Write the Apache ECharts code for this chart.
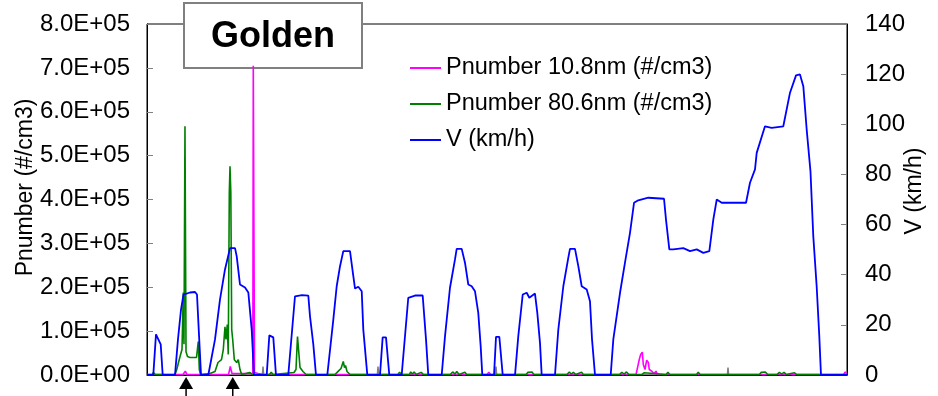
<!DOCTYPE html>
<html>
<head>
<meta charset="utf-8">
<script src="https://cdn.jsdelivr.net/npm/echarts@6/dist/echarts.min.js"></script>
<style>
html,body{margin:0;padding:0;background:#fff;}
#chart{width:938px;height:396px;}
</style>
</head>
<body>
<div id="chart"></div>
<script>
// ---------- DATA (time in s) ----------
var seriesNames = ['Pnumber 10.8nm (#/cm3)', 'Pnumber 80.6nm (#/cm3)', 'V (km/h)'];

var leftTickLabels = ['0.0E+00','1.0E+05','2.0E+05','3.0E+05','4.0E+05','5.0E+05','6.0E+05','7.0E+05','8.0E+05'];
var rightTickLabels = ['0','20','40','60','80','100','120','140'];

// Vehicle speed V (km/h)
var vTime = [0,10.8,15.4,19.4,23.5,26.9,
  48,53.1,58.3,62.6,73.7,82.3,85.7,89.1,92.6,
  105.1,116.6,125.1,133.7,142.3,150.9,153.8,159.4,168,173.7,179.5,183.4,
  205.2,209.7,216.5,221.1,
  242.2,253.7,265.7,276.5,279.4,285.1,289.7,
  309.1,319.4,325.2,330.9,336.5,348,353.7,356.6,362.2,368.1,370.8,377.7,
  399.4,404,409.7,415.4,
  436.6,447.9,459.4,472.6,478.3,482.2,
  505.2,510.9,519.4,528,530.9,539.5,545.1,550.8,556.6,562.3,567.9,572,574.8,
  594.9,598.3,604,609.8,
  630.9,636.5,644.1,650.9,655.4,665.1,669.1,673.7,676.6,
  699.4,705.1,713.7,722.2,725.1,733.7,739.4,745.2,753.8,759.4,762.9,768,
  794.9,799.4,810.9,819.4,828,834.9,842.2,859.4,886.3,889.7,895.4,902.2,919.4,930.9,942.4,953.7,964,970.8,976.7,985.2,
  1026.9,1033.7,1042.3,1045.2,1059.4,1070.9,1090.8,1102.3,1112.6,1119.4,1125.1,1130.9,1137.4,1142.2,1148,1152.5,1155.4,1200];
var vSpeed = [0,0,16.2,14.2,12.2,0,
  0,14.2,26.1,32.1,32.9,33.1,32.1,16.2,0,
  0,14.2,30.1,42.1,50.6,50.6,47.3,36.1,34.9,32.9,18.1,0,
  0,15.8,15,0,
  0,31.4,31.9,31.7,23.5,12.2,0,
  0,22.1,35.4,43.4,49.4,49.4,39.4,34.5,35.2,33.4,18.1,0,
  0,15,15,0,
  0,30.8,31.7,31.7,14.2,0,
  0,15.5,34.8,46.1,50.3,50.3,44.8,36.1,35.4,33.4,24.8,11.5,0,
  0,15.2,15.2,0,
  0,15.5,32.1,32.8,30.8,32.5,24.8,12.8,0,
  0,18.1,35.4,46.7,50.3,50.3,43.4,35.4,34.1,29.4,14.2,0,
  0,14.2,32.8,44.8,56.7,68.7,69.7,70.7,70.3,62,50.1,50.1,50.6,49.4,50.1,48.7,49.4,62,70,68.7,
  68.7,76.7,82,88.6,99.2,98.6,99.2,112.6,119.5,119.9,115.2,97.9,81.2,55.4,35.4,15.5,0,0];

// Pnumber 80.6nm (#/cm3)
var p80Time = [0,9,11,14,48,51,54,57,60,62.2,63.4,65.1,66.9,69.4,73.7,84.9,87.9,89.7,91.7,
  108,116.6,121.7,125.1,127.7,130.8,133.7,135.4,137.6,139.3,141.1,142.3,143.7,145.2,146.9,149.7,153.8,156.5,159.4,162.3,
  176.6,180,210,213,216,252,255.4,258,260.6,262.3,267.4,272.6,300,322.3,328,332.6,336.5,338.6,340.3,342.9,348,
  380,383,386,430,433,436,450,452,455,458,461,470,474,520,524,528,531,535,545,548,
  650,653,656,660,663,700,703,706,720,724,727,731,735,745,748,810,814,818,822,826,848,852,855,
  890,893,896,942,945,948,985,988,991,1050,1053,1056,1060,1064,1080,1084,1088,1092,1096,1110,1114,1160,1163,1166,1200];
var p80Value = [1000,1000,5700,1000,1000,12500,28500,44000,58000,188000,70000,567000,53000,42000,40000,40000,76000,12500,1000,
  3400,8000,28500,24000,35000,58000,110000,81000,115000,47000,416000,476000,416000,104000,81000,35000,28500,35000,12500,1000,
  5700,1000,1000,6000,1000,5700,12500,87700,87700,17000,8000,1000,1000,1000,8700,14800,30800,17000,21600,8000,1000,
  1000,5000,1000,1000,6000,1000,1000,7000,2000,7000,1000,6000,1000,1000,7000,2000,8000,1000,6000,1000,
  1000,6000,2000,7000,1000,1000,5000,1000,1000,7000,2000,6000,1000,6000,1000,1000,6000,2000,7000,1000,1000,5000,1000,
  1000,6000,1000,1000,6000,1000,1000,5000,1000,1000,6000,2000,7000,1000,1000,6000,2000,6000,1000,5000,1000,1000,5000,1000,1000];

// Pnumber 10.8nm (#/cm3)
var p10Time = [0,61.7,65.7,68.6,139.7,142.8,145.7,181.4,182.2,183.4,184.3,190.3,200,262,264,267,355,357,360,397,400,403,
  455,458,461,530,533,536,583,586,589,680,683,686,
  838.3,843.9,846.3,849.1,850.8,853.7,856.6,859.4,861.1,865.2,869.1,872.6,875.1,
  960,963,966,1100,1103,1106,1170,1173,1176,1194,1197,1200];
var p10Value = [1000,1000,8700,1000,1000,19400,3400,3400,705000,705000,5700,3400,1000,1000,4000,1000,1000,4500,1000,1000,4000,1000,
  1000,4000,1000,1000,5000,1000,1000,6000,1000,1000,4000,1000,
  1000,35300,46700,52000,23900,12500,33700,28500,12500,8700,3400,8700,1000,
  1000,4000,1000,1000,4000,1000,1000,4500,1000,1000,7000,1000];

// small grey marks near the baseline (no legend entry)
var greyTime = [197.8,198.9,200,201,394.9,396,397.1,398,597.2,598.3,599.4,600,994.9,996,997.1];
var greyValue = [0,19000,0,'-',0,19000,0,'-',0,19000,0,'-',0,17000,0];

// arrows under the axis (time positions)
var arrowTimes = [67, 147];

function zip(a, b) { var out = []; for (var i = 0; i < a.length; i++) out.push([a[i], b[i]]); return out; }

var FONT = '"Liberation Sans", Arial, sans-serif';
var chart = echarts.init(document.getElementById('chart'), null, {renderer: 'canvas'});

var option = {
  animation: false,
  backgroundColor: '#fff',
  textStyle: {fontFamily: FONT},
  grid: {left: 147, right: 91, top: 24, bottom: 21, show: true, borderColor: '#000', borderWidth: 1},
  legend: {
    data: [
      {name: seriesNames[0], icon: 'rect', itemStyle: {color: '#ff00ff'}},
      {name: seriesNames[1], icon: 'rect', itemStyle: {color: '#008000'}},
      {name: seriesNames[2], icon: 'rect', itemStyle: {color: '#0000ff'}}
    ],
    orient: 'vertical',
    left: 410, top: 56, padding: 0,
    itemWidth: 31, itemHeight: 2, itemGap: 12,
    textStyle: {fontFamily: FONT, fontSize: 23.5, color: '#000'}
  },
  xAxis: {
    type: 'value', min: 0, max: 1200,
    axisLine: {show: true, lineStyle: {color: '#000', width: 1}},
    axisTick: {show: false}, axisLabel: {show: false}, splitLine: {show: false}
  },
  yAxis: [{
    type: 'value', min: 0, max: 800000, interval: 100000, position: 'left',
    name: 'Pnumber (#/cm3)', nameLocation: 'middle', nameRotate: 90, nameGap: 110,
    nameMoveOverlap: false,
    nameTextStyle: {fontFamily: FONT, fontSize: 23, color: '#000', padding: [0, 0, 0, 24]},
    axisLine: {show: true, lineStyle: {color: '#000', width: 1}},
    axisTick: {show: true, inside: true, length: 6, lineStyle: {color: '#808080', width: 1}},
    splitLine: {show: false},
    axisLabel: {margin: 17, fontFamily: FONT, fontSize: 24, color: '#000',
      formatter: function (v, i) { return leftTickLabels[Math.round(v / 100000)]; }}
  }, {
    type: 'value', min: 0, max: 140, interval: 20, position: 'right',
    name: 'V (km/h)', nameLocation: 'middle', nameRotate: 90, nameGap: 56,
    nameMoveOverlap: false,
    nameTextStyle: {fontFamily: FONT, fontSize: 23, color: '#000', padding: [0, 0, 0, 17]},
    axisLine: {show: true, lineStyle: {color: '#000', width: 1}},
    axisTick: {show: true, inside: true, length: 6, lineStyle: {color: '#808080', width: 1}},
    splitLine: {show: false},
    axisLabel: {margin: 18, fontFamily: FONT, fontSize: 24, color: '#000',
      formatter: function (v) { return rightTickLabels[Math.round(v / 20)]; }}
  }],
  series: [{
    name: 'grey', type: 'line', yAxisIndex: 0, data: zip(greyTime, greyValue),
    symbol: 'none', connectNulls: false, lineStyle: {color: '#7f7f7f', width: 1.5}, itemStyle: {color: '#7f7f7f'}
  }, {
    name: seriesNames[0], type: 'line', yAxisIndex: 0, data: zip(p10Time, p10Value),
    symbol: 'none', lineStyle: {color: '#ff00ff', width: 1.6}, itemStyle: {color: '#ff00ff'}
  }, {
    name: seriesNames[1], type: 'line', yAxisIndex: 0, data: zip(p80Time, p80Value),
    symbol: 'none', lineStyle: {color: '#008000', width: 1.6}, itemStyle: {color: '#008000'}
  }, {
    name: seriesNames[2], type: 'line', yAxisIndex: 1, data: zip(vTime, vSpeed),
    symbol: 'none', lineStyle: {color: '#0000ff', width: 1.8}, itemStyle: {color: '#0000ff'}
  }]
};
chart.setOption(option);

// annotations: "Golden" label box and arrows at given times
var graphics = [{
  type: 'group', left: 183, top: 2, z: 100,
  children: [{
    type: 'rect', shape: {x: 0, y: 0, width: 178, height: 65},
    style: {fill: '#fff', stroke: '#808080', lineWidth: 2}
  }, {
    type: 'text', x: 89, y: 34,
    style: {text: 'Golden', font: 'bold 36px ' + FONT, fill: '#000', textAlign: 'center', textVerticalAlign: 'middle'}
  }]
}];
var y0 = chart.convertToPixel({yAxisIndex: 0}, 0);
arrowTimes.forEach(function (t) {
  var px = chart.convertToPixel({xAxisIndex: 0}, t);
  graphics.push({
    type: 'polygon', z: 100,
    shape: {points: [[px, y0 + 2], [px - 7, y0 + 14], [px + 7, y0 + 14]]},
    style: {fill: '#000'}
  });
  graphics.push({
    type: 'line', z: 100,
    shape: {x1: px, y1: y0 + 12, x2: px, y2: 396},
    style: {stroke: '#000', lineWidth: 1.5}
  });
});
chart.setOption({graphic: graphics});
</script>
</body>
</html>
